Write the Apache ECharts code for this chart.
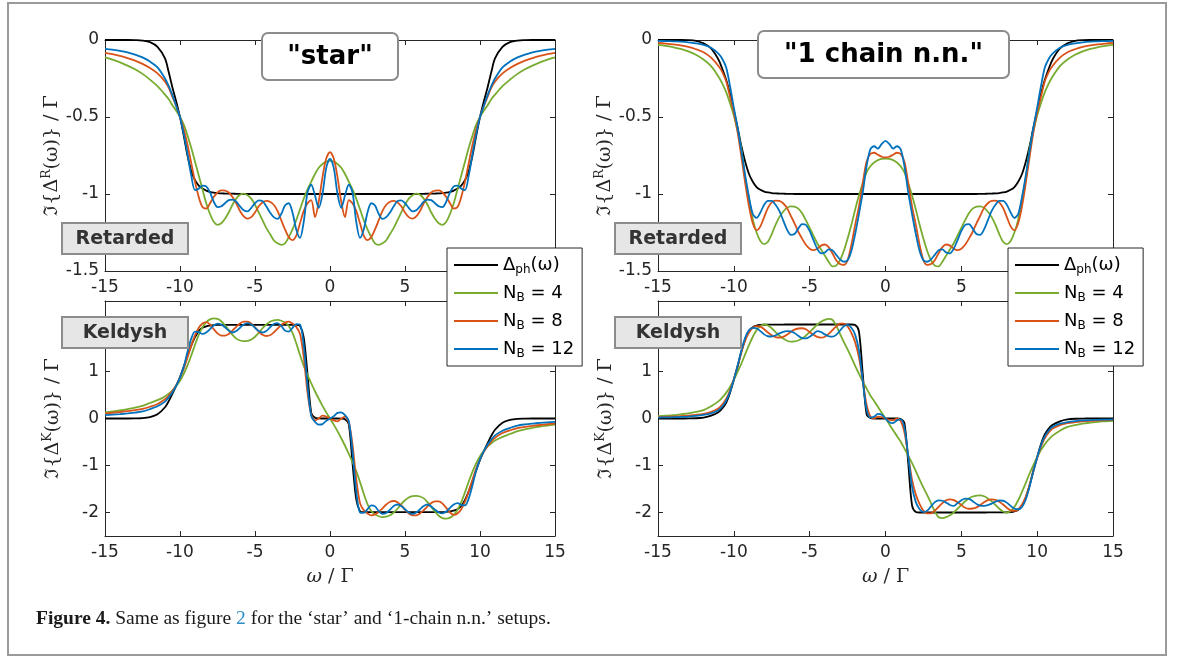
<!DOCTYPE html>
<html>
<head>
<meta charset="utf-8">
<script src="https://cdn.jsdelivr.net/npm/echarts@6/dist/echarts.min.js"></script>
<style>
html,body{margin:0;padding:0;background:#fff}
#chart{width:1182px;height:659px}
</style>
</head>
<body>
<div id="chart"></div>
<script>
// frequency grid (omega / Gamma)
const omega = [
 -15,-14.5,-14,-13.5,-13,-12.5,-12,-11.5,-11,
 -10.75,-10.5,-10.25,-10,-9.75,-9.5,-9.25,-9,-8.75,-8.5,-8.25,-8,-7.75,-7.5,-7.25,-7,-6.75,-6.5,-6.25,-6,
 -5.75,-5.5,-5.25,-5,-4.75,-4.5,-4.25,-4,-3.75,-3.5,-3.25,-3,-2.75,-2.5,-2.25,-2,-1.75,-1.5,-1.25,-1,-0.75,-0.5,-0.25,0,
 0.25,0.5,0.75,1,1.25,1.5,1.75,2,2.25,2.5,2.75,3,3.25,3.5,3.75,4,4.25,4.5,4.75,5,5.25,5.5,5.75,
 6,6.25,6.5,6.75,7,7.25,7.5,7.75,8,8.25,8.5,8.75,9,9.25,9.5,9.75,10,10.25,10.5,10.75,
 11,11.5,12,12.5,13,13.5,14,14.5,15
];

// "star" setup, retarded component
const starRetPh = [
 0,0,0,0,-0.001,-0.004,-0.014,-0.045,-0.12,
 -0.21,-0.31,-0.4,-0.5,-0.62,-0.75,-0.85,-0.91,-0.945,-0.965,-0.978,-0.986,-0.991,-0.994,-0.996,-0.997,-0.998,-0.998,-0.999,-0.999,
 -1,-1,-1,-1,-1,-1,-1,-1,-1,-1,-1,-1,-1,-1,-1,-1,-1,-1,-1,-1,-1,-1,-1,-1,
 -1,-1,-1,-1,-1,-1,-1,-1,-1,-1,-1,-1,-1,-1,-1,-1,-1,-1,-1,-1,-1,-1,-1,
 -0.999,-0.999,-0.998,-0.998,-0.997,-0.996,-0.994,-0.991,-0.986,-0.978,-0.965,-0.945,-0.91,-0.85,-0.75,-0.62,-0.5,-0.4,-0.31,-0.21,
 -0.12,-0.045,-0.014,-0.004,-0.001,0,0,0,0
];
const starRetN4 = [
 -0.113,-0.128,-0.145,-0.166,-0.19,-0.22,-0.257,-0.3,-0.355,
 -0.385,-0.425,-0.46,-0.5,-0.55,-0.62,-0.7,-0.79,-0.88,-0.97,-1.06,-1.13,-1.18,-1.2,-1.19,-1.16,-1.12,-1.07,-1.03,-1.005,
 -0.998,-1.008,-1.03,-1.07,-1.12,-1.17,-1.22,-1.26,-1.3,-1.32,-1.33,-1.32,-1.28,-1.23,-1.17,-1.1,-1.03,-0.97,-0.92,-0.87,-0.83,-0.805,-0.79,-0.785,
 -0.79,-0.805,-0.83,-0.87,-0.92,-0.97,-1.03,-1.1,-1.17,-1.23,-1.28,-1.32,-1.33,-1.32,-1.3,-1.26,-1.22,-1.17,-1.12,-1.07,-1.03,-1.008,-0.998,
 -1.005,-1.03,-1.07,-1.12,-1.16,-1.19,-1.2,-1.18,-1.13,-1.06,-0.97,-0.88,-0.79,-0.7,-0.62,-0.55,-0.5,-0.46,-0.425,-0.385,
 -0.355,-0.3,-0.257,-0.22,-0.19,-0.166,-0.145,-0.128,-0.113
];
const starRetN8 = [
 -0.083,-0.092,-0.103,-0.117,-0.134,-0.155,-0.182,-0.217,-0.27,
 -0.31,-0.37,-0.43,-0.5,-0.58,-0.68,-0.8,-0.92,-1.02,-1.085,-1.095,-1.06,-1.02,-0.99,-0.977,-0.978,-0.99,-1.02,-1.06,-1.11,
 -1.145,-1.16,-1.15,-1.12,-1.08,-1.055,-1.045,-1.05,-1.07,-1.11,-1.17,-1.23,-1.28,-1.3,-1.27,-1.19,-1.11,-1.06,-1.04,-1.15,-1.05,-0.89,-0.77,-0.728,
 -0.77,-0.89,-1.05,-1.15,-1.04,-1.06,-1.11,-1.19,-1.27,-1.3,-1.28,-1.23,-1.17,-1.11,-1.07,-1.05,-1.045,-1.055,-1.08,-1.12,-1.15,-1.16,-1.145,
 -1.11,-1.06,-1.02,-0.99,-0.978,-0.977,-0.99,-1.02,-1.06,-1.095,-1.085,-1.02,-0.92,-0.8,-0.68,-0.58,-0.5,-0.43,-0.37,-0.31,
 -0.27,-0.217,-0.182,-0.155,-0.134,-0.117,-0.103,-0.092,-0.083
];
const starRetN12 = [
 -0.057,-0.063,-0.07,-0.08,-0.095,-0.113,-0.14,-0.178,-0.25,
 -0.3,-0.36,-0.43,-0.5,-0.61,-0.74,-0.88,-0.975,-0.965,-0.945,-0.95,-0.99,-1.05,-1.085,-1.08,-1.06,-1.04,-1.037,-1.05,-1.08,
 -1.105,-1.113,-1.09,-1.06,-1.042,-1.045,-1.08,-1.12,-1.15,-1.162,-1.13,-1.075,-1.06,-1.12,-1.23,-1.285,-1.18,-0.99,-0.94,-1.01,-1.09,-1.0,-0.83,-0.772,
 -0.83,-1.0,-1.09,-1.01,-0.94,-0.99,-1.18,-1.285,-1.23,-1.12,-1.06,-1.075,-1.13,-1.162,-1.15,-1.12,-1.08,-1.045,-1.042,-1.06,-1.09,-1.113,-1.105,
 -1.08,-1.05,-1.037,-1.04,-1.06,-1.08,-1.085,-1.05,-0.99,-0.95,-0.945,-0.965,-0.975,-0.88,-0.74,-0.61,-0.5,-0.43,-0.36,-0.3,
 -0.25,-0.178,-0.14,-0.113,-0.095,-0.08,-0.07,-0.063,-0.057
];

// "1 chain n.n." setup, retarded component
const chainRetPh = [
 0,0,0,0,-0.001,-0.006,-0.022,-0.055,-0.13,
 -0.19,-0.26,-0.35,-0.46,-0.57,-0.69,-0.79,-0.87,-0.92,-0.955,-0.973,-0.984,-0.99,-0.994,-0.996,-0.997,-0.998,-0.999,-0.999,-1,
 -1,-1,-1,-1,-1,-1,-1,-1,-1,-1,-1,-1,-1,-1,-1,-1,-1,-1,-1,-1,-1,-1,-1,-1,
 -1,-1,-1,-1,-1,-1,-1,-1,-1,-1,-1,-1,-1,-1,-1,-1,-1,-1,-1,-1,-1,-1,-1,
 -1,-0.999,-0.999,-0.998,-0.997,-0.996,-0.994,-0.99,-0.984,-0.973,-0.955,-0.92,-0.87,-0.79,-0.69,-0.57,-0.46,-0.35,-0.26,-0.19,
 -0.13,-0.055,-0.022,-0.006,-0.001,0,0,0,0
];
const chainRetN4 = [
 -0.032,-0.038,-0.047,-0.058,-0.074,-0.096,-0.127,-0.17,-0.24,
 -0.285,-0.34,-0.41,-0.49,-0.59,-0.71,-0.9,-1.03,-1.165,-1.25,-1.305,-1.325,-1.31,-1.26,-1.2,-1.15,-1.115,-1.09,-1.08,-1.082,
 -1.095,-1.125,-1.17,-1.22,-1.27,-1.32,-1.36,-1.4,-1.44,-1.47,-1.465,-1.43,-1.37,-1.29,-1.2,-1.1,-1.01,-0.93,-0.86,-0.82,-0.795,-0.78,-0.772,-0.77,
 -0.772,-0.78,-0.795,-0.82,-0.86,-0.93,-1.01,-1.1,-1.2,-1.29,-1.37,-1.43,-1.465,-1.47,-1.44,-1.4,-1.36,-1.32,-1.27,-1.22,-1.17,-1.125,-1.095,
 -1.082,-1.08,-1.09,-1.115,-1.15,-1.2,-1.26,-1.31,-1.325,-1.305,-1.25,-1.165,-1.03,-0.9,-0.71,-0.59,-0.49,-0.41,-0.34,-0.285,
 -0.24,-0.17,-0.127,-0.096,-0.074,-0.058,-0.047,-0.038,-0.032
];
const chainRetN8 = [
 -0.019,-0.023,-0.028,-0.035,-0.045,-0.06,-0.08,-0.115,-0.17,
 -0.21,-0.27,-0.37,-0.47,-0.6,-0.76,-0.93,-1.08,-1.19,-1.235,-1.21,-1.15,-1.09,-1.055,-1.043,-1.045,-1.06,-1.09,-1.14,-1.19,
 -1.245,-1.29,-1.33,-1.355,-1.365,-1.355,-1.335,-1.328,-1.345,-1.385,-1.43,-1.455,-1.46,-1.43,-1.33,-1.2,-1.08,-0.93,-0.79,-0.74,-0.732,-0.745,-0.758,-0.762,
 -0.758,-0.745,-0.732,-0.74,-0.79,-0.93,-1.08,-1.2,-1.33,-1.43,-1.46,-1.455,-1.43,-1.385,-1.345,-1.328,-1.335,-1.355,-1.365,-1.355,-1.33,-1.29,-1.245,
 -1.19,-1.14,-1.09,-1.06,-1.045,-1.043,-1.055,-1.09,-1.15,-1.21,-1.235,-1.19,-1.08,-0.93,-0.76,-0.6,-0.47,-0.37,-0.27,-0.21,
 -0.17,-0.115,-0.08,-0.06,-0.045,-0.035,-0.028,-0.023,-0.019
];
const chainRetN12 = [
 -0.006,-0.007,-0.009,-0.011,-0.015,-0.022,-0.032,-0.05,-0.09,
 -0.125,-0.18,-0.3,-0.44,-0.57,-0.72,-0.88,-1.02,-1.13,-1.155,-1.12,-1.07,-1.045,-1.045,-1.07,-1.11,-1.17,-1.23,-1.265,-1.26,
 -1.225,-1.195,-1.2,-1.24,-1.3,-1.355,-1.385,-1.38,-1.36,-1.365,-1.395,-1.425,-1.44,-1.43,-1.37,-1.26,-1.13,-0.99,-0.82,-0.71,-0.69,-0.705,-0.675,-0.655,
 -0.675,-0.705,-0.69,-0.71,-0.82,-0.99,-1.13,-1.26,-1.37,-1.43,-1.44,-1.425,-1.395,-1.365,-1.36,-1.38,-1.385,-1.355,-1.3,-1.24,-1.2,-1.195,-1.225,
 -1.26,-1.265,-1.23,-1.17,-1.11,-1.07,-1.045,-1.045,-1.07,-1.12,-1.155,-1.13,-1.02,-0.88,-0.72,-0.57,-0.44,-0.3,-0.18,-0.125,
 -0.09,-0.05,-0.032,-0.022,-0.015,-0.011,-0.009,-0.007,-0.006
];

// "star" setup, Keldysh component
const starKelPh = [
 0,0,0,0,0.002,0.007,0.03,0.09,0.24,
 0.37,0.53,0.7,0.88,1.1,1.33,1.55,1.73,1.86,1.93,1.96,1.975,1.985,1.99,1.99,1.99,1.99,1.99,1.99,1.99,
 1.99,1.99,1.99,1.99,1.99,1.99,1.99,1.99,1.99,1.99,1.99,1.99,1.99,1.99,1.99,1.97,1.72,0.95,0.12,0.015,0.003,0,0,0,
 0,0,-0.003,-0.015,-0.12,-0.95,-1.72,-1.97,-1.99,-1.99,-1.99,-1.99,-1.99,-1.99,-1.99,-1.99,-1.99,-1.99,-1.99,-1.99,-1.99,-1.99,-1.99,
 -1.99,-1.99,-1.99,-1.99,-1.99,-1.99,-1.99,-1.985,-1.975,-1.96,-1.93,-1.86,-1.73,-1.55,-1.33,-1.1,-0.88,-0.7,-0.53,-0.37,
 -0.24,-0.09,-0.03,-0.007,-0.002,0,0,0,0
];
const starKelN4 = [
 0.13,0.15,0.17,0.2,0.23,0.27,0.33,0.39,0.47,
 0.53,0.6,0.69,0.8,0.95,1.13,1.34,1.57,1.78,1.94,2.05,2.11,2.13,2.12,2.07,1.98,1.88,1.78,1.7,1.66,
 1.645,1.65,1.68,1.74,1.82,1.92,2.0,2.06,2.09,2.1,2.08,2.04,1.97,1.82,1.6,1.35,1.12,0.93,0.75,0.58,0.42,0.27,0.13,0,
 -0.13,-0.27,-0.42,-0.58,-0.75,-0.93,-1.12,-1.35,-1.6,-1.82,-1.97,-2.04,-2.08,-2.1,-2.09,-2.06,-2.0,-1.92,-1.82,-1.74,-1.68,-1.65,-1.645,
 -1.66,-1.7,-1.78,-1.88,-1.98,-2.07,-2.12,-2.13,-2.11,-2.05,-1.94,-1.78,-1.57,-1.34,-1.13,-0.95,-0.8,-0.69,-0.6,-0.53,
 -0.47,-0.39,-0.33,-0.27,-0.23,-0.2,-0.17,-0.15,-0.13
];
const starKelN8 = [
 0.108,0.122,0.138,0.156,0.178,0.205,0.25,0.31,0.41,
 0.49,0.59,0.71,0.87,1.06,1.3,1.55,1.77,1.93,2.02,2.05,2.0,1.9,1.81,1.765,1.765,1.8,1.87,1.95,2.02,
 2.06,2.06,2.02,1.94,1.85,1.78,1.755,1.77,1.83,1.91,1.99,2.04,2.06,2.02,1.95,1.8,1.3,0.55,0.08,-0.04,0.0,0.06,0.04,0.0,
 -0.04,-0.06,0.0,0.04,-0.08,-0.55,-1.3,-1.8,-1.95,-2.02,-2.06,-2.04,-1.99,-1.91,-1.83,-1.77,-1.755,-1.78,-1.85,-1.94,-2.02,-2.06,-2.06,
 -2.02,-1.95,-1.87,-1.8,-1.765,-1.765,-1.81,-1.9,-2.0,-2.05,-2.02,-1.93,-1.77,-1.55,-1.3,-1.06,-0.87,-0.71,-0.59,-0.49,
 -0.41,-0.31,-0.25,-0.205,-0.178,-0.156,-0.138,-0.122,-0.108
];
const starKelN12 = [
 0.072,0.082,0.094,0.108,0.125,0.15,0.2,0.26,0.36,
 0.45,0.56,0.7,0.87,1.1,1.42,1.7,1.85,1.84,1.8,1.83,1.9,1.98,2.02,2.0,1.94,1.87,1.83,1.86,1.93,
 2.0,2.03,2.0,1.93,1.86,1.83,1.86,1.94,2.01,2.03,1.97,1.87,1.85,1.93,2.01,2.0,1.55,0.7,0.05,-0.07,-0.13,-0.12,-0.05,0.0,
 0.05,0.12,0.13,0.07,-0.05,-0.7,-1.55,-2.0,-2.01,-1.93,-1.85,-1.87,-1.97,-2.03,-2.01,-1.94,-1.86,-1.83,-1.86,-1.93,-2.0,-2.03,-2.0,
 -1.93,-1.86,-1.83,-1.87,-1.94,-2.0,-2.02,-1.98,-1.9,-1.83,-1.8,-1.84,-1.85,-1.7,-1.42,-1.1,-0.87,-0.7,-0.56,-0.45,
 -0.36,-0.26,-0.2,-0.15,-0.125,-0.108,-0.094,-0.082,-0.072
];

// "1 chain n.n." setup, Keldysh component
const chainKelPh = [
 0,0,0,0,0.001,0.005,0.02,0.06,0.14,
 0.22,0.34,0.55,0.82,1.1,1.42,1.68,1.86,1.94,1.975,1.99,1.995,1.997,1.998,1.998,1.999,1.999,2.0,2.0,2.0,
 2.0,2.0,2.0,2.0,2.0,2.0,2.0,2.0,2.0,2.0,2.0,2.0,2.0,2.0,2.0,1.99,1.85,0.95,0.1,0.01,0,0,0,0,
 0,0,0,-0.01,-0.1,-0.95,-1.85,-1.99,-2.0,-2.0,-2.0,-2.0,-2.0,-2.0,-2.0,-2.0,-2.0,-2.0,-2.0,-2.0,-2.0,-2.0,-2.0,
 -2.0,-2.0,-2.0,-1.999,-1.999,-1.998,-1.998,-1.997,-1.995,-1.99,-1.975,-1.94,-1.86,-1.68,-1.42,-1.1,-0.82,-0.55,-0.34,-0.22,
 -0.14,-0.06,-0.02,-0.005,-0.001,0,0,0,0
];
const chainKelN4 = [
 0.05,0.06,0.07,0.09,0.11,0.14,0.18,0.26,0.37,
 0.45,0.55,0.67,0.82,0.99,1.17,1.37,1.56,1.74,1.88,1.97,2.0,1.98,1.92,1.84,1.76,1.7,1.655,1.635,1.64,
 1.66,1.7,1.76,1.84,1.92,2.0,2.06,2.1,2.12,2.1,1.98,1.8,1.63,1.47,1.3,1.12,0.95,0.79,0.64,0.49,0.37,0.25,0.12,0,
 -0.12,-0.25,-0.37,-0.49,-0.64,-0.79,-0.95,-1.12,-1.3,-1.47,-1.63,-1.8,-1.98,-2.1,-2.12,-2.1,-2.06,-2.0,-1.92,-1.84,-1.76,-1.7,-1.66,
 -1.64,-1.635,-1.655,-1.7,-1.76,-1.84,-1.92,-1.98,-2.0,-1.97,-1.88,-1.74,-1.56,-1.37,-1.17,-0.99,-0.82,-0.67,-0.55,-0.45,
 -0.37,-0.26,-0.18,-0.14,-0.11,-0.09,-0.07,-0.06,-0.05
];
const chainKelN8 = [
 0.03,0.035,0.042,0.05,0.062,0.078,0.1,0.14,0.22,
 0.3,0.42,0.6,0.84,1.12,1.42,1.66,1.83,1.93,1.965,1.955,1.9,1.83,1.77,1.73,1.72,1.735,1.78,1.84,1.89,
 1.915,1.92,1.9,1.84,1.78,1.735,1.72,1.74,1.8,1.88,1.96,2.02,2.02,1.96,1.82,1.62,1.3,0.8,0.3,0.05,0.0,0.04,0.03,0.0,
 -0.03,-0.04,0.0,-0.05,-0.3,-0.8,-1.3,-1.62,-1.82,-1.96,-2.02,-2.02,-1.96,-1.88,-1.8,-1.74,-1.72,-1.735,-1.78,-1.84,-1.9,-1.92,-1.915,
 -1.89,-1.84,-1.78,-1.735,-1.72,-1.73,-1.77,-1.83,-1.9,-1.955,-1.965,-1.93,-1.83,-1.66,-1.42,-1.12,-0.84,-0.6,-0.42,-0.3,
 -0.22,-0.14,-0.1,-0.078,-0.062,-0.05,-0.042,-0.035,-0.03
];
const chainKelN12 = [
 0.02,0.024,0.028,0.034,0.042,0.055,0.075,0.11,0.18,
 0.26,0.38,0.57,0.83,1.13,1.45,1.72,1.88,1.93,1.92,1.86,1.79,1.75,1.745,1.77,1.81,1.845,1.86,1.855,1.82,
 1.76,1.71,1.705,1.74,1.8,1.86,1.84,1.79,1.75,1.74,1.78,1.87,1.96,1.99,1.93,1.78,1.45,0.8,0.2,0.02,0.04,0.1,0.08,0.0,
 -0.08,-0.1,-0.04,-0.02,-0.2,-0.8,-1.45,-1.78,-1.93,-1.99,-1.96,-1.87,-1.78,-1.74,-1.75,-1.79,-1.84,-1.86,-1.8,-1.74,-1.705,-1.71,-1.76,
 -1.82,-1.855,-1.86,-1.845,-1.81,-1.77,-1.745,-1.75,-1.79,-1.86,-1.92,-1.93,-1.88,-1.72,-1.45,-1.13,-0.83,-0.57,-0.38,-0.26,
 -0.18,-0.11,-0.075,-0.055,-0.042,-0.034,-0.028,-0.024,-0.02
];

// axis ticks
const xTicks = [-15, -10, -5, 0, 5, 10, 15];
const retTicks = [-1.5, -1, -0.5, 0];
const kelTicks = [-2, -1, 0, 1, 2];

// legend entries
const seriesNames = ['Δph(ω)', 'NB = 4', 'NB = 8', 'NB = 12'];
const legendText = {
  'Δph(ω)': 'Δ{sub|ph}(ω)',
  'NB = 4': 'N{sub|B} = 4',
  'NB = 8': 'N{sub|B} = 8',
  'NB = 12': 'N{sub|B} = 12'
};
const colors = ['#000000', '#77AC30', '#D95319', '#0072BD'];

const panels = [
  { grid: {left: 105, top: 40, width: 450, height: 231}, min: -1.5, max: 0, step: 0.5, ticks: retTicks,
    yName: 'ℑ{Δ{sup|R}(ω)} / Γ', xName: '', lines: [starRetPh, starRetN4, starRetN8, starRetN12] },
  { grid: {left: 658, top: 40, width: 455, height: 231}, min: -1.5, max: 0, step: 0.5, ticks: retTicks,
    yName: 'ℑ{Δ{sup|R}(ω)} / Γ', xName: '', lines: [chainRetPh, chainRetN4, chainRetN8, chainRetN12] },
  { grid: {left: 105, top: 301, width: 450, height: 235}, min: -2.5, max: 2.5, step: 0.5, ticks: kelTicks,
    yName: 'ℑ{Δ{sup|K}(ω)} / Γ', xName: '{i|ω} / Γ', lines: [starKelPh, starKelN4, starKelN8, starKelN12] },
  { grid: {left: 658, top: 301, width: 455, height: 235}, min: -2.5, max: 2.5, step: 0.5, ticks: kelTicks,
    yName: 'ℑ{Δ{sup|K}(ω)} / Γ', xName: '{i|ω} / Γ', lines: [chainKelPh, chainKelN4, chainKelN8, chainKelN12] }
];

const axisColor = '#262626';
const tickFont = {fontFamily: 'DejaVu Sans', fontSize: 17, color: axisColor};
const serifName = {
  fontFamily: '"DejaVu Serif", serif', fontSize: 19, color: axisColor,
  rich: {
    sup: {fontFamily: '"DejaVu Serif", serif', fontSize: 12.5, color: axisColor, verticalAlign: 'top', lineHeight: 24},
    i: {fontFamily: '"DejaVu Serif", serif', fontStyle: 'italic', fontSize: 19, color: axisColor}
  }
};

const grids = [], xAxes = [], yAxes = [], series = [];
panels.forEach((p, g) => {
  grids.push(Object.assign({containLabel: false}, p.grid));
  const line = {show: true, onZero: false, lineStyle: {color: axisColor, width: 1}};
  const tick = {show: true, inside: true, length: 5, lineStyle: {color: axisColor, width: 1}};
  xAxes.push({
    type: 'value', gridIndex: g, position: 'bottom', min: -15, max: 15, interval: 5,
    axisLine: line, axisTick: tick, splitLine: {show: false},
    axisLabel: Object.assign({margin: 8, showMinLabel: true, showMaxLabel: true, hideOverlap: false}, tickFont),
    name: p.xName, nameLocation: 'middle', nameGap: 32, nameTextStyle: serifName
  });
  xAxes.push({
    type: 'value', gridIndex: g, position: 'top', min: -15, max: 15, interval: 5,
    axisLine: line, axisTick: tick, splitLine: {show: false}, axisLabel: {show: false}
  });
  yAxes.push({
    type: 'value', gridIndex: g, position: 'left', min: p.min, max: p.max, interval: p.step,
    axisLine: line,
    axisTick: Object.assign({customValues: p.ticks}, tick),
    splitLine: {show: false},
    axisLabel: Object.assign({customValues: p.ticks, margin: 6, showMinLabel: true, showMaxLabel: true, hideOverlap: false}, tickFont),
    name: p.yName, nameLocation: 'middle', nameRotate: 90, nameGap: 40, nameTextStyle: serifName
  });
  yAxes.push({
    type: 'value', gridIndex: g, position: 'right', min: p.min, max: p.max, interval: p.step,
    axisLine: line,
    axisTick: Object.assign({customValues: p.ticks}, tick),
    splitLine: {show: false}, axisLabel: {show: false}
  });
  p.lines.forEach((ys, k) => {
    series.push({
      type: 'line', name: seriesNames[k], xAxisIndex: 2 * g, yAxisIndex: 2 * g,
      data: omega.map((w, i) => [w, ys[i]]),
      symbol: 'none', smooth: 0.3, clip: true, silent: true,
      lineStyle: {color: colors[k], width: 1.8}, itemStyle: {color: colors[k]}, z: 2 + k
    });
  });
});

function legendAt(left) {
  return {
    left: left, top: 248, orient: 'vertical', icon: 'rect', itemWidth: 44, itemHeight: 2, itemGap: 6,
    padding: [6, 8, 6, 7], backgroundColor: '#ffffff', borderColor: axisColor, borderWidth: 1,
    selectedMode: false, z: 20, data: seriesNames,
    formatter: n => legendText[n],
    textStyle: {
      fontFamily: 'DejaVu Sans', fontSize: 18, color: '#000', lineHeight: 22,
      rich: {sub: {fontFamily: 'DejaVu Sans', fontSize: 12, color: '#000', verticalAlign: 'bottom', lineHeight: 22}}
    }
  };
}

function tagBox(x, y, w, h, text, opts) {
  return {
    type: 'group', z: 50,
    children: [
      {type: 'rect', shape: {x: x, y: y, width: w, height: h, r: opts.r || 0},
       style: {fill: opts.fill, stroke: opts.stroke, lineWidth: 2}, z: 50},
      {type: 'text', x: x + w / 2, y: y + h / 2 + 1,
       style: {text: text, font: 'bold ' + opts.size + 'px "DejaVu Sans"', fill: opts.color, align: 'center', verticalAlign: 'middle'}, z: 51}
    ]
  };
}

const titleStyle = {fill: '#ffffff', stroke: '#8c8c8c', r: 6, size: 26, color: '#000'};
const tagStyle = {fill: '#e6e6e6', stroke: '#8c8c8c', r: 0, size: 19, color: '#333333'};

const graphics = [
  {type: 'rect', shape: {x: 8, y: 3, width: 1158, height: 652},
   style: {fill: 'none', stroke: '#9a9a9a', lineWidth: 2}, z: 0, silent: true},
  tagBox(262, 33, 136, 47, '"star"', titleStyle),
  tagBox(758, 31, 251, 47, '"1 chain n.n."', titleStyle),
  tagBox(62, 223, 126, 31, 'Retarded', tagStyle),
  tagBox(615, 223, 126, 31, 'Retarded', tagStyle),
  tagBox(62, 317, 126, 31, 'Keldysh', tagStyle),
  tagBox(615, 317, 126, 31, 'Keldysh', tagStyle),
  {type: 'text', x: 36, y: 619, z: 50,
   style: {
     text: '{b|Figure 4.} Same as figure {l|2} for the ‘star’ and ‘1-chain n.n.’ setups.',
     font: '19.5px "Liberation Serif"', fill: '#1a1a1a', verticalAlign: 'middle',
     rich: {
       b: {fontFamily: 'Liberation Serif', fontWeight: 'bold', fontSize: 19.5, fill: '#1a1a1a', color: '#1a1a1a'},
       l: {fontFamily: 'Liberation Serif', fontSize: 19.5, fill: '#2a8dc8', color: '#2a8dc8'}
     }
   }}
];

const chart = echarts.init(document.getElementById('chart'), null, {renderer: 'canvas'});
chart.setOption({
  animation: false,
  backgroundColor: '#ffffff',
  grid: grids,
  xAxis: xAxes,
  yAxis: yAxes,
  legend: [legendAt(447), legendAt(1008)],
  series: series,
  graphic: graphics
});
</script>
</body>
</html>
